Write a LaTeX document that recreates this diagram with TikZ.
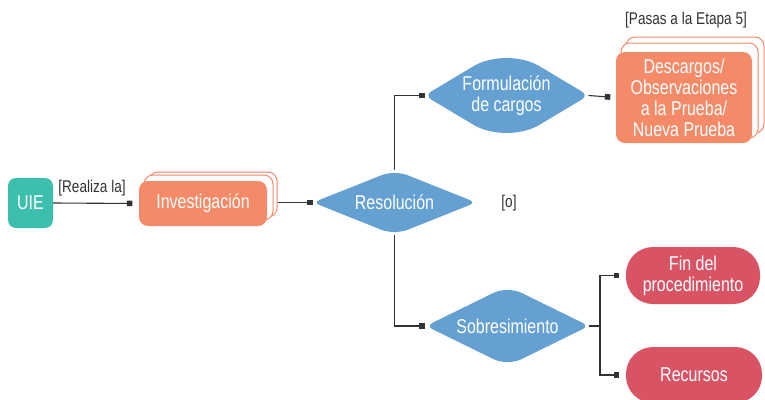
\documentclass[tikz,border=0pt]{standalone}
\usepackage{fontspec}
\setmainfont{Liberation Sans}[FakeStretch=0.8]
\usetikzlibrary{shapes.geometric,arrows.meta,calc}
\definecolor{teal1}{HTML}{3DBFAE}
\definecolor{orng}{HTML}{F58A68}
\definecolor{blu}{HTML}{64A0D1}
\definecolor{rd}{HTML}{D85465}
\definecolor{lin}{HTML}{333333}
\definecolor{txt}{HTML}{333333}
% #1 node, #2 top/bottom rounding fraction, #3 side rounding fraction
\newcommand\diafill[3]{%
  \fill[blu]
    ($(#1.north)!#2!(#1.west)$)
      .. controls ($(#1.north)!#2*0.45!(#1.west)$) and ($(#1.north)!#2*0.45!(#1.east)$) .. ($(#1.north)!#2!(#1.east)$)
    -- ($(#1.east)!#3!(#1.north)$)
      .. controls ($(#1.east)!#3*0.45!(#1.north)$) and ($(#1.east)!#3*0.45!(#1.south)$) .. ($(#1.east)!#3!(#1.south)$)
    -- ($(#1.south)!#2!(#1.east)$)
      .. controls ($(#1.south)!#2*0.45!(#1.east)$) and ($(#1.south)!#2*0.45!(#1.west)$) .. ($(#1.south)!#2!(#1.west)$)
    -- ($(#1.west)!#3!(#1.south)$)
      .. controls ($(#1.west)!#3*0.45!(#1.south)$) and ($(#1.west)!#3*0.45!(#1.north)$) .. ($(#1.west)!#3!(#1.north)$)
    -- cycle;}
\begin{document}
\begin{tikzpicture}[x=1pt,y=-1pt,
  boxtext/.style={text=white, font=\fontsize{20}{21}\selectfont, align=center, inner sep=0pt},
  tealbox/.style={boxtext, rectangle, rounded corners=8pt, fill=teal1},
  orangebox/.style={boxtext, rectangle, rounded corners=9pt, fill=orng},
  ghost/.style={rectangle, rounded corners=9pt, draw=orng, fill=white, line width=1pt, inner sep=0pt},
  dia/.style={diamond, aspect=2.5, inner sep=0pt, outer sep=0pt},
  pill/.style={boxtext, rectangle, rounded corners=27pt, fill=rd},
  conn/.style={draw=lin, line width=1.1pt, -{Square[length=5.5pt,width=5.5pt]}},
  lbl/.style={text=txt, font=\fontsize{17}{19}\selectfont, inner sep=0pt}
]
\clip (0,0) rectangle (765,399);
\fill[white] (0,0) rectangle (765,399);

% UIE
\node[tealbox, minimum width=45pt, minimum height=50pt] (uie) at (30.5,203) {UIE};

% Investigacion stack
\node[ghost, minimum width=128pt, minimum height=45pt] (inv2) at (213,194.5) {};
\node[ghost, minimum width=129pt, minimum height=45pt] (inv1) at (208.5,197.5) {};
\node[orangebox, minimum width=128pt, minimum height=45pt] (inv) at (203,203.5) {Investigación};

% diamonds
\node[dia, minimum width=163pt, minimum height=65pt] (res) at (394.5,202.5) {};
\node[dia, minimum width=164pt, minimum height=98pt] (form) at (506.5,95.5) {};
\node[dia, minimum width=163pt, minimum height=80pt] (sob) at (507.5,326) {};
\diafill{res}{0.16}{0.08}
\diafill{form}{0.4}{0.08}
\diafill{sob}{0.17}{0.08}
\node[boxtext] (rest) at (res) {Resolución};
\node[boxtext] (formt) at (form) {Formulación\\de cargos};
\node[boxtext] (sobt) at (sob) {Sobresimiento};

% Descargos stack
\node[ghost, minimum width=138pt, minimum height=96pt] (desc2) at (695,85) {};
\node[ghost, minimum width=137pt, minimum height=95pt] (desc1) at (689.5,90.5) {};
\node[orangebox, minimum width=136pt, minimum height=91pt] (desc) at (684,97.5) {Descargos/\\Observaciones\\a la Prueba/\\Nueva Prueba};

% red pills
\node[pill, minimum width=134pt, minimum height=57pt] (fin) at (693,275.5) {Fin del\\procedimiento};
\node[pill, minimum width=136pt, minimum height=56pt] (rec) at (694,375) {Recursos};

% labels
\node[lbl] (realiza) at (92,188) {[Realiza la]};
\node[lbl] (oo) at (509,203) {[o]};
\node[lbl] (pasas) at (686,20) {[Pasas a la Etapa 5]};

% connectors
\coordinate (j) at (600,326);
\draw[conn, shorten >=6.5pt] (uie.east) -- (inv.west);
\draw[conn, shorten >=0.5pt] (inv2.east |- res.west) -- (res.west);
\draw[conn] (res.north) |- (form.west);
\draw[conn, shorten >=5.5pt] (form.east) -- (desc.west);
\draw[conn, shorten >=1.5pt] (res.south) |- (sob.west);
\draw[draw=lin, line width=1.1pt] (sob.east) -- (j);
\draw[conn, shorten >=6.5pt] (j) |- (fin.west);
\draw[conn, shorten >=6.5pt] (j) |- (rec.west);
\end{tikzpicture}
\end{document}
